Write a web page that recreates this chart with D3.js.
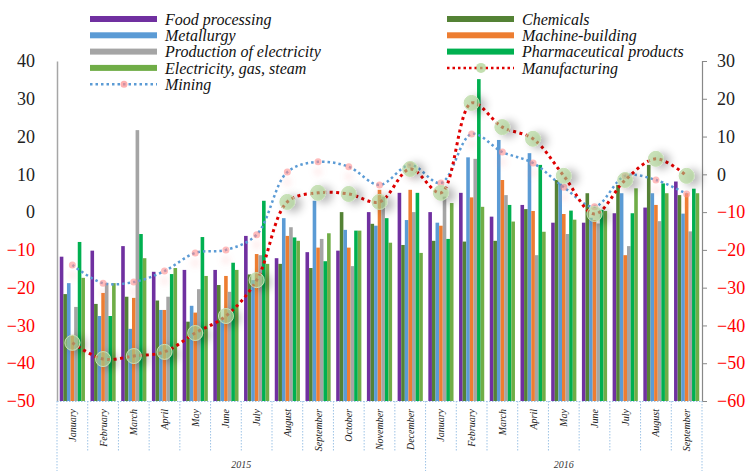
<!DOCTYPE html>
<html>
<head>
<meta charset="utf-8">
<script src="https://cdn.jsdelivr.net/npm/d3@7"></script>
<style>
  body { margin: 0; background: #fff; }
  svg { display: block; }
  text { font-family: "Liberation Serif", "Times New Roman", serif; }
</style>
</head>
<body>
<div id="chart"></div>
<script>
// months, Jan 2015 .. Sep 2016
var months = ["January", "February", "March", "April", "May", "June", "July", "August",
  "September", "October", "November", "December",
  "January", "February", "March", "April", "May", "June", "July", "August", "September"];
var years = [{ label: "2015", from: 0, to: 12 }, { label: "2016", from: 12, to: 21 }];

// bar series (left axis)
var foodProcessing = [-11.8, -10.2, -9, -15.8, -15.3, -15.3, -6.3, -12.2, -10.6, -10.2, 0, 5.1, 0, 5.1, -1.2, 1.9, -2.8, -2.8, -0.3, 1.2, 8.1];
var chemicals = [-21.7, -24.3, -22.4, -23.4, -29, -19.3, -16.5, -13.7, -14.8, 0, -3.1, -8.7, -7.6, -7.8, -7.6, 0.8, 8.5, 5.0, 7.2, 12.5, 4.5];
var metallurgy = [-18.8, -27.5, -30.9, -25.9, -24.8, -28.6, -18, -1.6, 3.0, -4.7, -3.6, -2.1, -2.8, 14.5, 19.1, 15.6, 7.6, -1.5, 5.0, 5.0, -0.4];
var machineBuilding = [-32.5, -21.4, -22.7, -25.9, -26.6, -16.9, -11.1, -6.3, -9.4, -9.4, 5.9, 5.9, -3.6, 3.9, 8.5, 0.3, -0.5, -2.1, -11.4, 1.9, 5.0];
var electricityProd = [-25.1, -18.8, 21.7, -22.4, -20.4, -21.1, -11.4, -4.0, -7.1, -14.3, 4.1, 0, 4.1, 14.1, 4.5, -11.4, -5.8, -3, -9, -2.4, -5.1];
var pharmaceutical = [-7.9, -27.5, -5.8, -16.4, -6.6, -13.4, 3.0, -6.7, -13, -4.9, -1.6, 5.1, -7.1, 35.2, 1.9, 12.5, 0.4, 0.6, -0.3, 7.6, 6.2];
var electricityGas = [-17.4, -18.8, -12.2, -14.8, -16.9, -15.3, -13.7, -7.6, -5.6, -4.9, -8.1, -10.8, 2.4, 1.4, -2.5, -5.2, -2.0, 0.3, 6.3, 5.0, 5.0];

// line series (right axis)
var manufacturing = [-44.6, -48.9, -48.1, -47.0, -42.0, -37.5, -28.0, -7.3, -4.9, -5.2, -7.3, 1.4, -4.9, 18.9, 12.5, 9.4, -0.4, -10.5, -1.5, 4.1, -0.4];
var mining = [-24, -28.8, -28.5, -25.6, -20.8, -20, -16, 0.6, 3.3, 2.0, -2.8, 2.5, -2.3, 10.7, 5.9, 3.0, -3.4, -8.6, -0.4, -1.5, -5.2];

var leftTicks = [40, 30, 20, 10, 0, -10, -20, -30, -40, -50];
var rightTicks = [30, 20, 10, 0, -10, -20, -30, -40, -50, -60];

var bars = [
  { name: "Food processing", values: foodProcessing, color: "#7030a0" },
  { name: "Chemicals", values: chemicals, color: "#548235" },
  { name: "Metallurgy", values: metallurgy, color: "#5b9bd5" },
  { name: "Machine-building", values: machineBuilding, color: "#ed7d31" },
  { name: "Production of electricity", values: electricityProd, color: "#a5a5a5" },
  { name: "Pharmaceutical products", values: pharmaceutical, color: "#00b050" },
  { name: "Electricity, gas, steam", values: electricityGas, color: "#70ad47" }
];

var width = 753, height = 471;
var plotLeft = 57, plotRight = 702, plotTop = 61, plotBottom = 401;

var svg = d3.select("#chart").append("svg")
  .attr("width", width)
  .attr("height", height);

var defs = svg.append("defs");
defs.append("filter").attr("id", "shadow")
  .attr("x", "-100%").attr("y", "-100%").attr("width", "300%").attr("height", "300%")
  .append("feDropShadow")
  .attr("dx", 6).attr("dy", 2).attr("stdDeviation", 4)
  .attr("flood-color", "#000").attr("flood-opacity", 0.45);
defs.append("filter").attr("id", "glow")
  .attr("x", "-200%").attr("y", "-200%").attr("width", "500%").attr("height", "600%")
  .append("feDropShadow")
  .attr("dx", 0).attr("dy", 10).attr("stdDeviation", 3)
  .attr("flood-color", "#ff8080").attr("flood-opacity", 0.35);

var x0 = d3.scaleBand()
  .domain(d3.range(months.length))
  .range([plotLeft, plotRight])
  .paddingInner(0.18)
  .paddingOuter(0.09);
var x1 = d3.scaleBand()
  .domain(d3.range(bars.length))
  .range([0, x0.bandwidth()]);
var step = (plotRight - plotLeft) / months.length;

var yL = d3.scaleLinear().domain([-50, 40]).range([plotBottom, plotTop]);
var yR = d3.scaleLinear().domain([-60, 30]).range([plotBottom, plotTop]);

// bars grow up from the axis minimum
var groups = svg.append("g").selectAll("g")
  .data(months)
  .enter().append("g")
  .attr("transform", function (d, i) { return "translate(" + x0(i) + ",0)"; });

groups.selectAll("rect")
  .data(function (d, i) {
    return bars.map(function (s, j) { return { j: j, v: s.values[i], color: s.color }; });
  })
  .enter().append("rect")
  .attr("x", function (d) { return x1(d.j); })
  .attr("width", x1.bandwidth())
  .attr("y", function (d) { return yL(d.v); })
  .attr("height", function (d) { return yL(-50) - yL(d.v); })
  .attr("fill", function (d) { return d.color; });

// axes
var axisL = svg.append("g").attr("transform", "translate(" + plotLeft + ",0)")
  .call(d3.axisLeft(yL).tickValues(leftTicks).tickSize(0).tickPadding(22).tickFormat(d3.format("d")));
axisL.select(".domain").attr("stroke", "#a6a6a6").attr("stroke-width", 1.5);
axisL.selectAll("text")
  .style("font-size", "18px")
  .style("font-family", "'Liberation Serif', serif")
  .attr("fill", function (d) { return d < 0 ? "#ff0000" : "#222"; });

var axisR = svg.append("g").attr("transform", "translate(" + plotRight + ",0)")
  .call(d3.axisRight(yR).tickValues(rightTicks).tickSize(5).tickPadding(10).tickFormat(d3.format("d")));
axisR.select(".domain").attr("stroke", "#888").attr("stroke-width", 1.2);
axisR.selectAll(".tick line").attr("stroke", "#888");
axisR.selectAll("text")
  .style("font-size", "18px")
  .style("font-family", "'Liberation Serif', serif")
  .attr("fill", function (d) { return d < 0 ? "#ff0000" : "#222"; });

// category axis: dotted base line and separators
var catCol = "#9dc3e6";
svg.append("line")
  .attr("x1", plotLeft).attr("x2", plotRight)
  .attr("y1", plotBottom + 0.5).attr("y2", plotBottom + 0.5)
  .attr("stroke", catCol).attr("stroke-dasharray", "1.5,1.5");

svg.append("g").selectAll("line")
  .data(d3.range(months.length + 1))
  .enter().append("line")
  .attr("x1", function (i) { return plotLeft + i * step; })
  .attr("x2", function (i) { return plotLeft + i * step; })
  .attr("y1", plotBottom)
  .attr("y2", function (i) { return (i == 0 || i == 12 || i == months.length) ? height : 452; })
  .attr("stroke", catCol)
  .attr("stroke-dasharray", "1.5,1.5");

svg.append("g").selectAll("text")
  .data(months)
  .enter().append("text")
  .attr("transform", function (d, i) {
    return "translate(" + (x0(i) + x0.bandwidth() / 2) + ",409) rotate(-90)";
  })
  .attr("text-anchor", "end")
  .attr("dy", "0.35em")
  .style("font-size", "10px")
  .style("font-style", "italic")
  .attr("fill", "#222")
  .text(function (d) { return d; });

svg.append("g").selectAll("text")
  .data(years)
  .enter().append("text")
  .attr("x", function (d) { return plotLeft + (d.from + d.to) / 2 * step; })
  .attr("y", 468)
  .attr("text-anchor", "middle")
  .style("font-size", "10px")
  .style("font-style", "italic")
  .attr("fill", "#333")
  .text(function (d) { return d.label; });

// lines on right axis
var cx = function (d, i) { return x0(i) + x0.bandwidth() / 2; };
var line = d3.line()
  .x(cx)
  .y(function (d) { return yR(d); })
  .curve(d3.curveCatmullRom.alpha(0.5));

svg.append("path")
  .datum(mining)
  .attr("d", line)
  .attr("fill", "none")
  .attr("stroke", "#5b9bd5")
  .attr("stroke-width", 2.5)
  .attr("stroke-dasharray", "2.5,3");

svg.append("g").selectAll("circle")
  .data(mining)
  .enter().append("circle")
  .attr("cx", cx)
  .attr("cy", function (d) { return yR(d); })
  .attr("r", 3.5)
  .attr("fill", "#ff8f8f")
  .attr("fill-opacity", 0.6)
  .attr("filter", "url(#glow)");

svg.append("path")
  .datum(manufacturing)
  .attr("d", line)
  .attr("fill", "none")
  .attr("stroke", "#e00000")
  .attr("stroke-width", 3)
  .attr("stroke-dasharray", "3,3.5");

svg.append("g").selectAll("circle")
  .data(manufacturing)
  .enter().append("circle")
  .attr("cx", cx)
  .attr("cy", function (d) { return yR(d); })
  .attr("r", 7.5)
  .attr("fill", "#a9d18e")
  .attr("fill-opacity", 0.6)
  .attr("stroke", "#c5e0b4")
  .attr("stroke-width", 1)
  .attr("filter", "url(#shadow)");

// legend, two columns filled row by row
var legendItems = [
  { name: "Food processing", color: "#7030a0", col: 0, row: 0 },
  { name: "Metallurgy", color: "#5b9bd5", col: 0, row: 1 },
  { name: "Production of electricity", color: "#a5a5a5", col: 0, row: 2 },
  { name: "Electricity, gas, steam", color: "#70ad47", col: 0, row: 3 },
  { name: "Mining", line: "#5b9bd5", marker: "#ff8f8f", col: 0, row: 4 },
  { name: "Chemicals", color: "#548235", col: 1, row: 0 },
  { name: "Machine-building", color: "#ed7d31", col: 1, row: 1 },
  { name: "Pharmaceutical products", color: "#00b050", col: 1, row: 2 },
  { name: "Manufacturing", line: "#e00000", marker: "#a9d18e", col: 1, row: 3 }
];
var colX = [90, 447];
var legend = svg.append("g").selectAll("g")
  .data(legendItems)
  .enter().append("g")
  .attr("transform", function (d) { return "translate(" + colX[d.col] + "," + (19 + d.row * 16.3) + ")"; });

legend.filter(function (d) { return d.color; })
  .append("rect")
  .attr("x", 0).attr("y", -3)
  .attr("width", 67).attr("height", 6)
  .attr("fill", function (d) { return d.color; });

legend.filter(function (d) { return d.line; })
  .append("line")
  .attr("x1", 0).attr("x2", 67)
  .attr("stroke", function (d) { return d.line; })
  .attr("stroke-width", 2.5)
  .attr("stroke-dasharray", "2.5,3");

legend.filter(function (d) { return d.line; })
  .append("circle")
  .attr("cx", 34)
  .attr("r", function (d) { return d.name == "Mining" ? 3.5 : 5; })
  .attr("fill", function (d) { return d.marker; })
  .attr("fill-opacity", 0.7);

legend.append("text")
  .attr("x", 75)
  .attr("dy", "0.35em")
  .style("font-size", "16px")
  .style("font-style", "italic")
  .attr("fill", "#111")
  .text(function (d) { return d.name; });
</script>
</body>
</html>
